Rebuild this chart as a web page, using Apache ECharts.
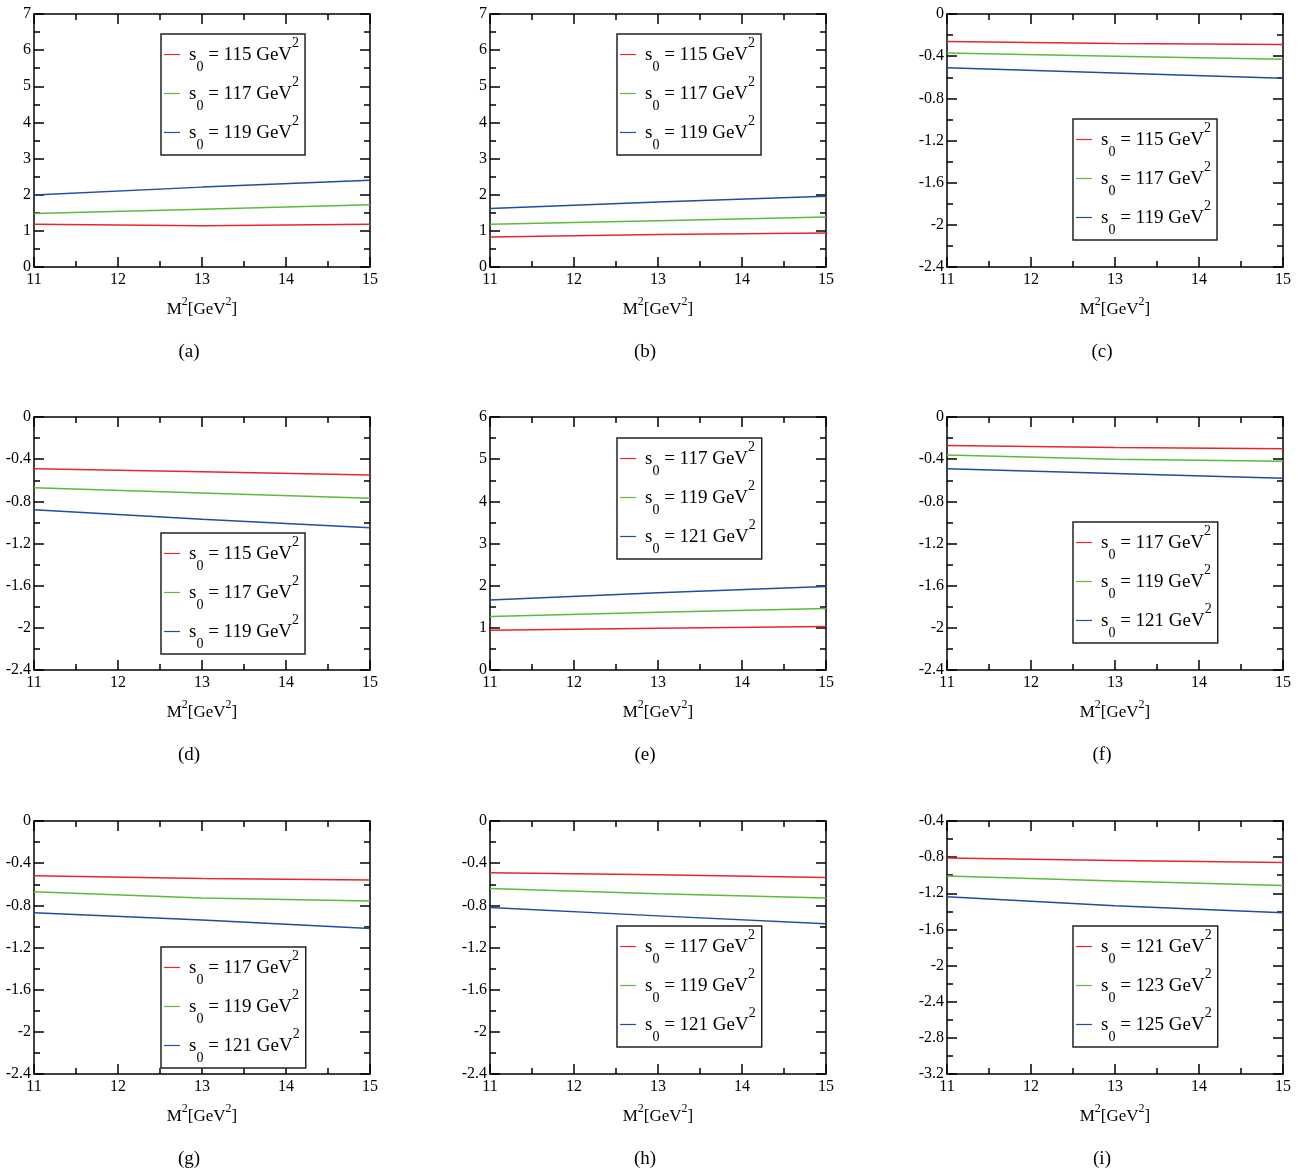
<!DOCTYPE html>
<html>
<head>
<meta charset="utf-8">
<script src="https://cdn.jsdelivr.net/npm/echarts@6/dist/echarts.min.js"></script>
<style>
html,body{margin:0;padding:0;background:#ffffff;}
#chart{width:1316px;height:1172px;}
</style>
</head>
<body>
<div id="chart"></div>
<script>
// ---- data ----
const M2 = [11, 13, 15];

const s0A = [115, 117, 119];
const s0B = [115, 117, 119];
const s0C = [115, 117, 119];
const s0D = [115, 117, 119];
const s0E = [117, 119, 121];
const s0F = [117, 119, 121];
const s0G = [117, 119, 121];
const s0H = [117, 119, 121];
const s0I = [121, 123, 125];

const panelA = [[1.18, 1.14, 1.18], [1.48, 1.60, 1.72], [1.99, 2.21, 2.40]];
const panelB = [[0.83, 0.90, 0.94], [1.18, 1.28, 1.38], [1.62, 1.80, 1.96]];
const panelC = [[-0.26, -0.28, -0.29], [-0.37, -0.40, -0.43], [-0.51, -0.56, -0.61]];
const panelD = [[-0.49, -0.52, -0.55], [-0.67, -0.72, -0.77], [-0.88, -0.97, -1.05]];
const panelE = [[0.94, 0.99, 1.03], [1.27, 1.37, 1.46], [1.66, 1.83, 1.98]];
const panelF = [[-0.27, -0.29, -0.30], [-0.36, -0.40, -0.42], [-0.49, -0.535, -0.58]];
const panelG = [[-0.52, -0.545, -0.56], [-0.67, -0.73, -0.76], [-0.87, -0.94, -1.02]];
const panelH = [[-0.49, -0.51, -0.535], [-0.64, -0.69, -0.73], [-0.82, -0.90, -0.975]];
const panelI = [[-0.81, -0.836, -0.858], [-1.01, -1.064, -1.113], [-1.239, -1.338, -1.416]];

const panelLetters = ['a', 'b', 'c', 'd', 'e', 'f', 'g', 'h', 'i'];
const yMin = [0, 0, -2.4, -2.4, 0, -2.4, -2.4, -2.4, -3.2];
const yMax = [7, 7, 0, 0, 6, 0, 0, 0, -0.4];
const yStep = [1, 1, 0.4, 0.4, 1, 0.4, 0.4, 0.4, 0.4];

// ---- layout / style ----
const panels = [panelA, panelB, panelC, panelD, panelE, panelF, panelG, panelH, panelI];
const s0s = [s0A, s0B, s0C, s0D, s0E, s0F, s0G, s0H, s0I];
const colLeft = [34, 490, 947];
const rowTop = [14, 417, 821];
const gridW = 336, gridH = 253;
const legendLeft = [161, 617, 1073];
const legendTop = [34, 34, 119, 533, 438, 522, 947, 926, 926];
const lineColors = ['#e8262a', '#5dbb3a', '#1f4e9e'];
const FONT = 'Liberation Serif';

const grids = [], xAxes = [], yAxes = [], series = [], legends = [], titles = [];
const legendNameMap = {};

panels.forEach((pdata, p) => {
  const col = p % 3, row = Math.floor(p / 3);
  grids.push({ left: colLeft[col], top: rowTop[row], width: gridW, height: gridH, containLabel: false, outerBoundsMode: 'none' });

  const commonTick = { show: true, inside: true, length: 10, lineStyle: { color: '#000', width: 1.5 } };
  const commonMinor = { show: true, splitNumber: 2, length: 6, lineStyle: { color: '#000', width: 1.5 } };
  const axisLine = { show: true, onZero: false, lineStyle: { color: '#000', width: 1.5 } };

  xAxes.push({
    gridIndex: p, type: 'value', position: 'bottom', min: 11, max: 15, interval: 1,
    axisLine: axisLine, axisTick: commonTick, minorTick: commonMinor, splitLine: { show: false },
    axisLabel: { show: true, margin: 5, color: '#000', fontFamily: FONT, fontSize: 16 },
    name: '{m|M}{sup|2}{m|[GeV}{sup|2}{m|]}', nameLocation: 'middle', nameGap: 28, nameMoveOverlap: false,
    nameTextStyle: {
      fontFamily: FONT, fontSize: 17, color: '#000', lineHeight: 30,
      rich: {
        m: { fontFamily: FONT, fontSize: 17, color: '#000', lineHeight: 30 },
        sup: { fontFamily: FONT, fontSize: 12, color: '#000', lineHeight: 30, verticalAlign: 'top', padding: [1, 0, 0, 0] }
      }
    }
  });
  xAxes.push({
    gridIndex: p, type: 'value', position: 'top', min: 11, max: 15, interval: 1,
    axisLine: axisLine, axisTick: commonTick, minorTick: commonMinor, splitLine: { show: false },
    axisLabel: { show: false }
  });
  yAxes.push({
    gridIndex: p, type: 'value', position: 'left', min: yMin[p], max: yMax[p], interval: yStep[p],
    axisLine: axisLine, axisTick: commonTick, minorTick: commonMinor, splitLine: { show: false },
    axisLabel: { show: true, margin: 3, color: '#000', fontFamily: FONT, fontSize: 16 }
  });
  yAxes.push({
    gridIndex: p, type: 'value', position: 'right', min: yMin[p], max: yMax[p], interval: yStep[p],
    axisLine: axisLine, axisTick: commonTick, minorTick: commonMinor, splitLine: { show: false },
    axisLabel: { show: false }
  });

  const names = [];
  pdata.forEach((vals, k) => {
    const nm = 'p' + p + '_' + k;
    names.push(nm);
    legendNameMap[nm] = s0s[p][k];
    series.push({
      name: nm, type: 'line', xAxisIndex: 2 * p, yAxisIndex: 2 * p,
      data: M2.map((x, j) => [x, vals[j]]),
      symbol: 'none', showSymbol: false, smooth: false, silent: true,
      lineStyle: { color: lineColors[k], width: 1.5 }, itemStyle: { color: lineColors[k] },
      animation: false
    });
  });

  legends.push({
    data: names, orient: 'vertical', left: legendLeft[col], top: legendTop[p],
    padding: [1, 6, 3, 3], itemGap: 0, itemWidth: 16, itemHeight: 1.2, icon: 'rect',
    borderColor: '#222', borderWidth: 1.5, backgroundColor: '#fff', selectedMode: false,
    formatter: (name) => '{s|s}{sub|0}{t| = ' + legendNameMap[name] + ' GeV}{sup|2}',
    textStyle: {
      fontFamily: FONT, fontSize: 19, color: '#000', lineHeight: 39,
      rich: {
        s: { fontFamily: FONT, fontSize: 19, color: '#000', lineHeight: 39, verticalAlign: 'top', padding: [11, 0, 0, 4] },
        sub: { fontFamily: FONT, fontSize: 14, color: '#000', lineHeight: 39, verticalAlign: 'top', padding: [25, 0, 0, 0] },
        t: { fontFamily: FONT, fontSize: 19, color: '#000', lineHeight: 39, verticalAlign: 'top', padding: [11, 0, 0, 0] },
        sup: { fontFamily: FONT, fontSize: 14, color: '#000', lineHeight: 39, verticalAlign: 'top', padding: [1, 0, 0, 0] }
      }
    }
  });

  titles.push({
    text: '(' + panelLetters[p] + ')', left: colLeft[col] + gridW / 2 - 13, top: rowTop[row] + gridH + 76,
    textAlign: 'center', padding: 0,
    textStyle: { fontFamily: FONT, fontSize: 19, fontWeight: 'normal', color: '#000' }
  });
});

const chart = echarts.init(document.getElementById('chart'), null, { renderer: 'canvas' });
chart.setOption({
  backgroundColor: '#ffffff',
  animation: false,
  title: titles,
  grid: grids,
  xAxis: xAxes,
  yAxis: yAxes,
  legend: legends,
  series: series
});
</script>
</body>
</html>
